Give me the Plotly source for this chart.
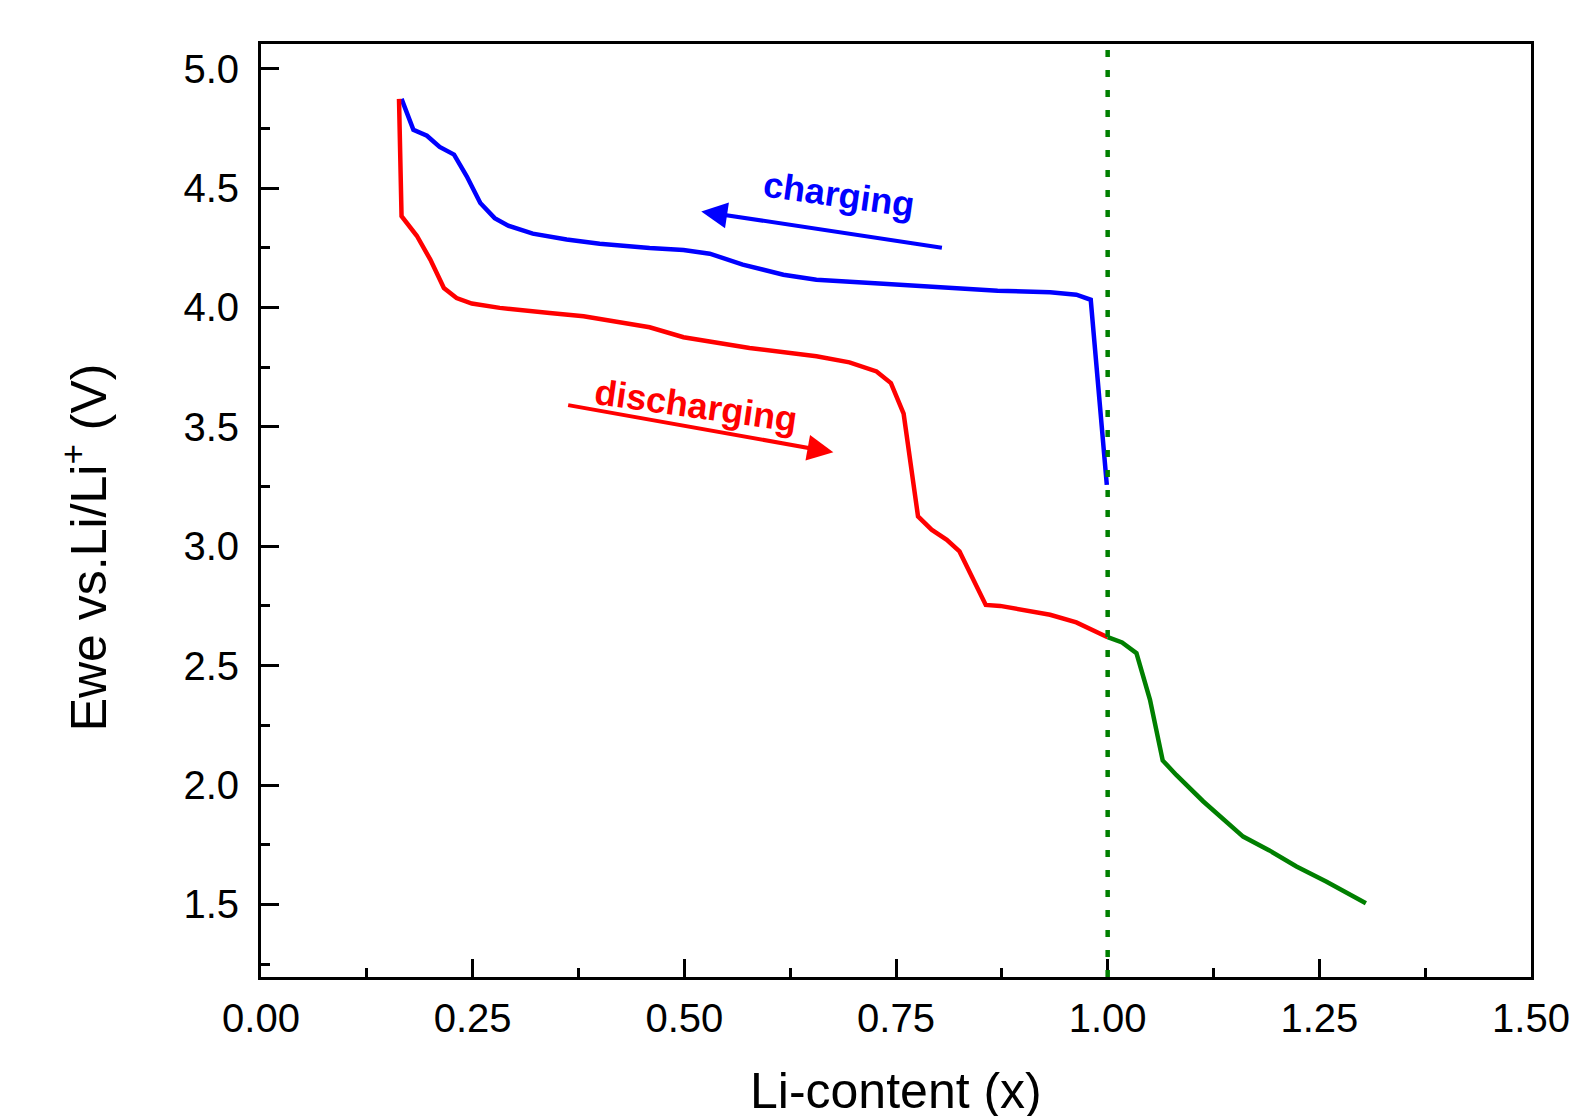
import plotly.graph_objects as go

# ---- data ----
charge_x = [0.166, 0.180, 0.196, 0.211, 0.228, 0.243, 0.259, 0.276, 0.292, 0.321,
            0.361, 0.400, 0.459, 0.499, 0.530, 0.569, 0.617, 0.656, 0.735, 0.813,
            0.870, 0.932, 0.963, 0.980, 0.999]
charge_v = [4.873, 4.744, 4.719, 4.672, 4.640, 4.549, 4.437, 4.374, 4.342, 4.309,
            4.284, 4.267, 4.249, 4.240, 4.225, 4.179, 4.137, 4.116, 4.099, 4.081,
            4.070, 4.063, 4.053, 4.032, 3.257]

discharge_x = [0.163, 0.166, 0.184, 0.200, 0.216, 0.231, 0.249, 0.282, 0.341, 0.381,
               0.420, 0.459, 0.499, 0.577, 0.656, 0.695, 0.727, 0.744, 0.759, 0.776,
               0.792, 0.810, 0.825, 0.856, 0.873, 0.932, 0.963, 1.000]
discharge_v = [4.873, 4.382, 4.300, 4.200, 4.081, 4.039, 4.016, 3.998, 3.977, 3.963,
               3.940, 3.917, 3.875, 3.830, 3.795, 3.770, 3.732, 3.683, 3.555, 3.125,
               3.069, 3.027, 2.978, 2.754, 2.750, 2.713, 2.681, 2.619]

extra_x = [1.000, 1.017, 1.034, 1.050, 1.065, 1.081, 1.113, 1.160, 1.191, 1.223,
           1.258, 1.305]
extra_v = [2.619, 2.597, 2.552, 2.357, 2.103, 2.042, 1.931, 1.784, 1.726, 1.659,
           1.596, 1.505]

boundary_x = 1.0

x_ticks = [0.00, 0.25, 0.50, 0.75, 1.00, 1.25, 1.50]
y_ticks = [1.5, 2.0, 2.5, 3.0, 3.5, 4.0, 4.5, 5.0]

# arrows: (tail_x, tail_y, head_x, head_y)
charge_arrow = [0.806, 4.249, 0.520, 4.402]
discharge_arrow = [0.361, 3.592, 0.676, 3.393]
charge_label = [0.683, 4.474]
discharge_label = [0.514, 3.590]

FONT = "Liberation Sans, Arial, Helvetica, sans-serif"
BLUE = "#0000FF"
RED = "#FF0000"
GREEN = "#007F00"

fig = go.Figure()
fig.add_trace(go.Scatter(x=charge_x, y=charge_v, mode="lines",
                         line=dict(color=BLUE, width=4.5), name="charging"))
fig.add_trace(go.Scatter(x=discharge_x, y=discharge_v, mode="lines",
                         line=dict(color=RED, width=4.5), name="discharging"))
fig.add_trace(go.Scatter(x=extra_x, y=extra_v, mode="lines",
                         line=dict(color=GREEN, width=4.5), name="x>1"))

fig.add_vline(x=boundary_x, line=dict(color=GREEN, width=4.5, dash="7px,13px"))

axis_common = dict(
    showgrid=False, zeroline=False, showline=True, linecolor="black", linewidth=2.8,
    mirror=True, ticks="inside", ticklen=18, tickwidth=2.8, tickcolor="black",
    automargin=False,
    tickfont=dict(family=FONT, size=40, color="black"),
)

fig.update_xaxes(range=[0, 1.5], tickvals=x_ticks,
                 ticktext=[f"{v:.2f}" for v in x_ticks],
                 minor=dict(ticks="inside", ticklen=9, tickwidth=2.8, tickcolor="black", dtick=0.125, tick0=0),
                 ticklabelstandoff=4,
                 **axis_common)
fig.update_yaxes(range=[1.196, 5.103], tickvals=y_ticks,
                 ticktext=[f"{v:.1f}" for v in y_ticks],
                 minor=dict(ticks="inside", ticklen=9, tickwidth=2.8, tickcolor="black", dtick=0.25, tick0=0),
                 ticklabelstandoff=11,
                 **axis_common)

annotations = [
    dict(x=charge_arrow[2], y=charge_arrow[3], ax=charge_arrow[0], ay=charge_arrow[1],
         xref="x", yref="y", axref="x", ayref="y", text="", showarrow=True,
         arrowhead=2, arrowsize=1.3, arrowwidth=4, arrowcolor=BLUE, standoff=0),
    dict(x=discharge_arrow[2], y=discharge_arrow[3], ax=discharge_arrow[0], ay=discharge_arrow[1],
         xref="x", yref="y", axref="x", ayref="y", text="", showarrow=True,
         arrowhead=2, arrowsize=1.3, arrowwidth=4, arrowcolor=RED, standoff=0),
    dict(x=charge_label[0], y=charge_label[1], xref="x", yref="y", text="<b>charging</b>",
         showarrow=False, textangle=8, font=dict(family=FONT, size=36, color=BLUE)),
    dict(x=discharge_label[0], y=discharge_label[1], xref="x", yref="y", text="<b>discharging</b>",
         showarrow=False, textangle=8, font=dict(family=FONT, size=36, color=RED)),
    dict(x=-0.139, y=0.461, xref="paper", yref="paper", text="Ewe vs.Li/Li<sup>+</sup> (V)",
         showarrow=False, textangle=-90, xanchor="center", yanchor="middle",
         font=dict(family=FONT, size=50, color="black")),
    dict(x=0.5, y=-0.122, xref="paper", yref="paper", text="Li-content (x)",
         showarrow=False, xanchor="center", yanchor="middle",
         font=dict(family=FONT, size=50, color="black")),
]

fig.update_layout(
    width=1572, height=1116,
    margin=dict(l=261, r=41, t=44, b=139),
    paper_bgcolor="white", plot_bgcolor="white",
    showlegend=False,
    annotations=annotations,
)

fig.write_html("out.html")
